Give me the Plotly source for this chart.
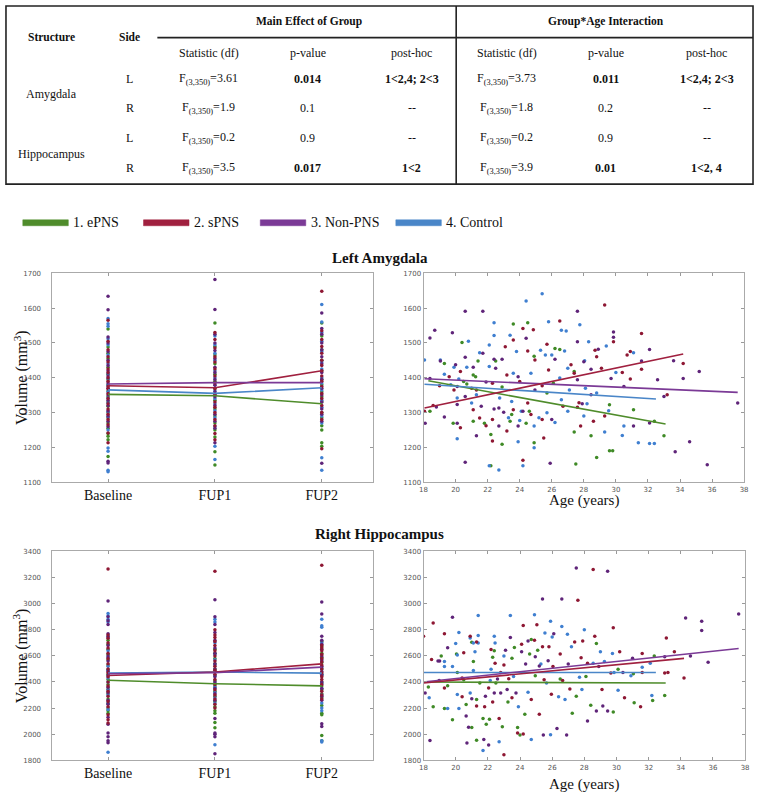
import plotly.graph_objects as go

W, H = 759, 796
def px(x): return x / W
def py(y): return 1 - y / H

# ---------------- Table data ----------------
structures = ["Amygdala", "Hippocampus"]
sides = ["L", "R", "L", "R"]
main_stat = ["3.61", "1.9", "0.2", "3.5"]
main_p = ["0.014", "0.1", "0.9", "0.017"]
main_post = ["1&lt;2,4; 2&lt;3", "--", "--", "1&lt;2"]
inter_stat = ["3.73", "1.8", "0.2", "3.9"]
inter_p = ["0.011", "0.2", "0.9", "0.01"]
inter_post = ["1&lt;2,4; 2&lt;3", "--", "--", "1&lt;2, 4"]
significant = [True, False, False, True]

groups = ["1. ePNS", "2. sPNS", "3. Non-PNS", "4. Control"]
line_colors = ["#4f8c2b", "#a0203f", "#7b3a96", "#4a86c8"]
dot_colors = ["#3f8a26", "#8e1733", "#5f2479", "#3f7fd0"]
timepoints = ["Baseline", "FUP1", "FUP2"]

# ---------------- Left Amygdala: volume by timepoint ----------------
LA_tp = {
    "1. ePNS": [
        [1540, 1488, 1470, 1455, 1430, 1410, 1395, 1380, 1362, 1345, 1330, 1318, 1300, 1285, 1270, 1255, 1240, 1232, 1222, 1174],
        [1557, 1490, 1465, 1440, 1410, 1390, 1370, 1350, 1335, 1310, 1290, 1270, 1250, 1230, 1187, 1149],
        [1557, 1520, 1480, 1450, 1420, 1395, 1380, 1360, 1345, 1330, 1300, 1285, 1262, 1250, 1213, 1203],
    ],
    "2. sPNS": [
        [1565, 1505, 1480, 1460, 1445, 1425, 1415, 1400, 1390, 1375, 1368, 1355, 1340, 1325, 1310, 1295, 1280, 1265, 1241, 1213],
        [1530, 1510, 1485, 1460, 1445, 1425, 1405, 1385, 1368, 1352, 1330, 1315, 1300, 1280, 1262, 1240, 1222],
        [1648, 1535, 1510, 1490, 1470, 1450, 1435, 1420, 1405, 1390, 1375, 1355, 1340, 1320, 1300, 1280, 1196],
    ],
    "3. Non-PNS": [
        [1634, 1595, 1517, 1500, 1475, 1450, 1435, 1420, 1405, 1385, 1370, 1350, 1335, 1320, 1305, 1290, 1275, 1260, 1160, 1155],
        [1682, 1596, 1525, 1500, 1478, 1455, 1430, 1415, 1395, 1378, 1360, 1345, 1320, 1295, 1275, 1255, 1213],
        [1586, 1541, 1525, 1500, 1480, 1460, 1440, 1415, 1395, 1370, 1350, 1330, 1310, 1295, 1275, 1154],
    ],
    "4. Control": [
        [1570, 1555, 1548, 1512, 1495, 1465, 1440, 1412, 1398, 1378, 1360, 1342, 1328, 1302, 1288, 1250, 1198, 1189, 1134, 1130],
        [1520, 1495, 1470, 1450, 1420, 1400, 1380, 1362, 1340, 1325, 1305, 1285, 1260, 1203, 1165],
        [1610, 1560, 1530, 1505, 1475, 1445, 1425, 1400, 1385, 1365, 1335, 1315, 1290, 1270, 1170, 1134],
    ],
}
LA_means = {
    "1. ePNS": [1352, 1348, 1325],
    "2. sPNS": [1377, 1371, 1420],
    "3. Non-PNS": [1382, 1386, 1386],
    "4. Control": [1365, 1355, 1371],
}

# ---------------- Left Amygdala: volume vs age ----------------
LA_age = {
    "1. ePNS": [20.4, 24.5, 23.6, 26.2, 26.5, 24.9, 21.4, 22.5, 19.3, 21.1, 21.25, 20.5, 20.7, 18.4, 19.85, 21.1, 21.8, 22.2, 22.9, 23.5, 23.4, 24.4, 24.6, 24.9, 27.4, 28.45, 28.8, 29.6, 29.8, 29.6, 31.1, 32.4, 33.0, 27.4, 22.9, 25.7, 26.1, 22.2, 27.5],
    "2. sPNS": [24.85, 24.2, 26.5, 29.3, 29.85, 31.6, 28.7, 30.9, 30.7, 25.7, 24.5, 23.6, 23.1, 20.3, 19.6, 19.0, 19.9, 21.0, 21.3, 18.6, 18.06, 20.3, 21.1, 21.5, 21.9, 22.3, 22.3, 23.2, 23.6, 24.7, 25.4, 25.5, 26.7, 27.8, 27.6, 28.6, 29.3, 33.2, 34.2, 31.6, 30.4, 30.9, 28.8, 29.1, 27.4, 27.2, 25.8, 24.95, 24.5, 24.0, 23.2, 22.3, 25.4, 27.7, 24.2],
    "3. Non-PNS": [18.7, 18.4, 19.8, 20.6, 21.7, 27.6, 29.85, 29.85, 27.6, 28.9, 32.1, 24.4, 20.6, 22.4, 22.9, 21.7, 19.05, 20.0, 21.1, 18.4, 20.1, 20.1, 20.6, 21.6, 18.8, 18.1, 19.3, 20.1, 21.3, 22.7, 23.9, 26.0, 27.9, 31.1, 32.1, 33.7, 33.0, 32.6, 33.6, 34.2, 35.2, 34.6, 35.7, 37.6, 31.6, 30.5, 28.0, 28.45, 27.6, 29.7, 26.2, 24.95, 24.2, 23.0, 22.7, 22.5, 21.9, 22.4, 23.9, 28.45, 20.6, 25.9],
    "4. Control": [18.06, 20.8, 22.4, 22.4, 22.1, 24.4, 25.4, 25.8, 26.6, 26.9, 27.75, 28.3, 29.4, 31.1, 26.8, 26.0, 25.3, 21.5, 23.4, 23.8, 19.05, 19.9, 20.7, 19.3, 20.2, 19.7, 20.1, 21.0, 21.3, 20.1, 23.3, 24.0, 23.9, 24.1, 24.9, 24.9, 25.2, 25.7, 26.2, 27.0, 28.0, 28.2, 29.3, 29.55, 30.5, 30.4, 31.4, 32.1, 32.4, 30.0, 28.05, 27.0, 27.1, 28.1, 28.8, 26.5, 25.6, 24.7, 23.5, 22.75, 22.1, 23.6, 26.6, 22.1, 22.7, 24.2],
}
LA_vol = {
    "1. ePNS": [1501, 1558, 1554, 1484, 1481, 1462, 1448, 1448, 1441, 1408, 1403, 1389, 1382, 1304, 1269, 1275, 1269, 1237, 1209, 1294, 1275, 1269, 1304, 1213, 1244, 1233, 1171, 1190, 1190, 1322, 1308, 1275, 1233, 1418, 1373, 1356, 1384, 1147, 1152],
    "2. sPNS": [1538, 1541, 1563, 1609, 1503, 1527, 1479, 1475, 1465, 1496, 1477, 1508, 1489, 1418, 1403, 1377, 1365, 1370, 1365, 1320, 1304, 1256, 1308, 1284, 1262, 1280, 1218, 1247, 1308, 1294, 1280, 1227, 1318, 1261, 1315, 1275, 1290, 1351, 1441, 1424, 1415, 1396, 1460, 1427, 1413, 1437, 1422, 1451, 1327, 1389, 1408, 1384, 1377, 1328, 1163],
    "3. Non-PNS": [1536, 1514, 1529, 1591, 1591, 1591, 1531, 1516, 1503, 1482, 1481, 1513, 1459, 1453, 1453, 1470, 1448, 1437, 1430, 1398, 1375, 1323, 1346, 1318, 1316, 1269, 1287, 1269, 1233, 1261, 1261, 1280, 1325, 1261, 1270, 1187, 1346, 1394, 1449, 1398, 1418, 1216, 1150, 1327, 1448, 1375, 1446, 1424, 1394, 1398, 1453, 1365, 1304, 1301, 1313, 1427, 1388, 1310, 1403, 1351, 1157, 1154],
    "4. Control": [1451, 1505, 1558, 1521, 1494, 1620, 1641, 1561, 1536, 1534, 1552, 1503, 1491, 1472, 1477, 1465, 1479, 1472, 1522, 1475, 1451, 1430, 1430, 1410, 1396, 1380, 1342, 1327, 1351, 1225, 1285, 1277, 1216, 1304, 1261, 1199, 1285, 1299, 1271, 1304, 1290, 1325, 1244, 1305, 1261, 1234, 1213, 1211, 1211, 1415, 1449, 1427, 1365, 1370, 1356, 1399, 1465, 1413, 1332, 1342, 1432, 1413, 1337, 1147, 1135, 1147],
}
LA_fit_age = {"1. ePNS": [18.3, 33.1], "2. sPNS": [18.06, 34.2], "3. Non-PNS": [18.06, 37.6], "4. Control": [18.06, 32.5]}
LA_fit_vol = {"1. ePNS": [1391, 1267], "2. sPNS": [1313, 1468], "3. Non-PNS": [1397, 1358], "4. Control": [1381, 1339]}

# ---------------- Right Hippocampus: volume by timepoint ----------------
RH_tp = {
    "1. ePNS": [
        [2720, 2690, 2650, 2610, 2570, 2530, 2495, 2460, 2420, 2380, 2345, 2310, 2270, 2235, 2200, 2180, 2160],
        [2650, 2620, 2580, 2540, 2500, 2450, 2410, 2370, 2330, 2290, 2250, 2210, 2180, 2160, 2090, 2050],
        [2710, 2670, 2620, 2590, 2550, 2500, 2460, 2400, 2370, 2340, 2310, 2280, 2220, 2160, 2150, 1990, 1950],
    ],
    "2. sPNS": [
        [3266, 2760, 2735, 2700, 2660, 2620, 2580, 2540, 2500, 2470, 2440, 2400, 2370, 2330, 2290, 2250, 2210, 2150, 2110, 2085],
        [3248, 2800, 2760, 2740, 2710, 2680, 2640, 2600, 2560, 2520, 2490, 2460, 2420, 2380, 2340, 2300, 2270, 2230, 2200],
        [3294, 2680, 2660, 2640, 2610, 2580, 2555, 2530, 2500, 2470, 2440, 2420, 2380, 2330, 2300, 2270],
    ],
    "3. Non-PNS": [
        [3020, 2900, 2870, 2840, 2770, 2745, 2680, 2600, 2560, 2480, 2450, 2360, 2320, 2260, 2230, 2130, 2076, 2010, 1980, 1950, 1935],
        [3030, 2900, 2840, 2780, 2720, 2660, 2620, 2540, 2500, 2440, 2400, 2350, 2310, 2260, 2120, 2010, 2000, 1980, 1850],
        [3013, 2920, 2750, 2720, 2690, 2650, 2600, 2570, 2520, 2480, 2450, 2400, 2350, 2290, 2260, 2080, 2060],
    ],
    "4. Control": [
        [2924, 2905, 2880, 2860, 2750, 2640, 2590, 2520, 2490, 2430, 2400, 2340, 2300, 2240, 2190, 1861],
        [2880, 2860, 2700, 2610, 2570, 2530, 2480, 2450, 2390, 2360, 2320, 2280, 2240, 1920],
        [2880, 2830, 2820, 2700, 2560, 2510, 2460, 2390, 2350, 2300, 2240, 2200, 2180, 1950, 1940],
    ],
}
RH_means = {
    "1. ePNS": [2413, 2387, 2370],
    "2. sPNS": [2450, 2476, 2539],
    "3. Non-PNS": [2463, 2471, 2514],
    "4. Control": [2468, 2476, 2468],
}

# ---------------- Right Hippocampus: volume vs age ----------------
RH_age = {
    "1. ePNS": [18.3, 18.6, 19.1, 19.3, 19.5, 19.8, 20.05, 20.1, 20.5, 20.65, 21.0, 21.0, 21.1, 21.3, 21.3, 21.5, 21.7, 21.9, 22.1, 22.3, 22.4, 22.5, 22.9, 23.25, 23.5, 23.65, 23.85, 24.0, 24.3, 24.7, 24.6, 24.95, 25.1, 26.5, 27.25, 27.5, 28.1, 28.4, 28.75, 29.8, 30.1, 31.05, 31.1, 32.25, 32.35, 33.0],
    "2. sPNS": [18.0, 18.5, 18.6, 19.3, 19.3, 20.4, 20.4, 20.5, 20.9, 21.3, 21.3, 21.8, 22.05, 22.2, 22.3, 22.45, 22.7, 22.8, 23.0, 23.0, 23.3, 23.5, 23.85, 24.1, 24.2, 24.2, 24.7, 24.9, 25.05, 25.2, 25.4, 25.5, 25.8, 25.95, 26.05, 26.5, 26.65, 27.1, 27.4, 27.6, 27.8, 27.9, 28.2, 28.55, 28.65, 29.1, 29.65, 29.8, 30.5, 30.2, 31.5, 31.6, 31.6, 33.0, 33.2, 33.6, 34.2, 33.1],
    "3. Non-PNS": [18.1, 18.4, 18.9, 19.0, 18.97, 19.5, 19.8, 20.65, 20.7, 20.8, 21.0, 21.75, 21.85, 22.05, 22.4, 22.6, 22.8, 23.1, 23.2, 23.4, 23.75, 24.1, 24.35, 24.5, 24.95, 25.2, 25.4, 25.45, 25.75, 26.1, 26.3, 26.6, 26.9, 27.0, 27.5, 28.2, 28.75, 28.9, 29.15, 29.45, 29.45, 30.4, 31.0, 33.0, 34.3, 34.6, 35.3, 35.3, 35.7, 37.6],
    "4. Control": [18.35, 19.3, 19.3, 19.5, 19.8, 20.0, 20.1, 20.1, 20.2, 20.2, 20.9, 20.9, 21.1, 21.1, 21.2, 21.4, 21.4, 21.4, 21.7, 22.15, 22.2, 22.4, 22.45, 22.7, 23.0, 23.4, 23.6, 23.9, 24.5, 24.7, 24.9, 25.3, 25.55, 25.65, 25.9, 25.9, 26.0, 26.4, 26.6, 26.8, 26.95, 27.2, 27.7, 27.85, 28.0, 28.55, 29.0, 29.25, 29.75, 29.85, 30.1, 30.9, 31.6, 32.1, 32.2],
}
RH_vol = {
    "1. ePNS": [2362, 2211, 2599, 2196, 2372, 2110, 2614, 2473, 2417, 2228, 2052, 2705, 2556, 1954, 2266, 2392, 2120, 2077, 2115, 2589, 2639, 2392, 2057, 2246, 2581, 2664, 2052, 1994, 2153, 2725, 2614, 2448, 2644, 2422, 2160, 2291, 2442, 2221, 2694, 2170, 2498, 2463, 2241, 2258, 2599, 2296],
    "2. sPNS": [2750, 2573, 2851, 2770, 2354, 2286, 2430, 2624, 2750, 2707, 2216, 2211, 2354, 2649, 2246, 2543, 2120, 2473, 1843, 2531, 2425, 2279, 2009, 2689, 2833, 2001, 2266, 2719, 2838, 2153, 2669, 2417, 2669, 2306, 2518, 2614, 2412, 2347, 2707, 3027, 2586, 2714, 2543, 3261, 2750, 2342, 2468, 2815, 2279, 2631, 2211, 2473, 2619, 2468, 2473, 2631, 2430, 2737],
    "3. Non-PNS": [2316, 1951, 2561, 2561, 2412, 2662, 2896, 2140, 1933, 2054, 2271, 1959, 2291, 1918, 2316, 2422, 2316, 2644, 2342, 2740, 2316, 2631, 2538, 2714, 2594, 2523, 3035, 1994, 2563, 2770, 2044, 3035, 1994, 2538, 3274, 2102, 2178, 2518, 2216, 3249, 2178, 2473, 2581, 2594, 2891, 2599, 2866, 2795, 2551, 2921],
    "4. Control": [2279, 2518, 2556, 2196, 2518, 2694, 2606, 2304, 2196, 2780, 2316, 2737, 2488, 2699, 2631, 2909, 2699, 2757, 1875, 2412, 2498, 2750, 2699, 1943, 2599, 2909, 2442, 2211, 2321, 1959, 2916, 2538, 2775, 2392, 2866, 1996, 2745, 2286, 2825, 2266, 2765, 2669, 2437, 2342, 2800, 2543, 2631, 2556, 2619, 2473, 2337, 2447, 2513, 2543, 2296],
}
RH_fit_age = {"1. ePNS": [18.0, 33.06], "2. sPNS": [18.0, 34.2], "3. Non-PNS": [18.0, 37.6], "4. Control": [18.0, 32.45]}
RH_fit_vol = {"1. ePNS": [2400, 2392], "2. sPNS": [2392, 2581], "3. Non-PNS": [2400, 2657], "4. Control": [2473, 2473]}

fig = go.Figure()

draw_order = [0, 3, 2, 1]  # green, blue, purple, red on top

def add_tp(tpdata, means, xa, ya):
    for gi in draw_order:
        g = groups[gi]
        xs, ys = [], []
        for ti, t in enumerate(timepoints):
            xs += [t] * len(tpdata[g][ti])
            ys += tpdata[g][ti]
        fig.add_trace(go.Scatter(x=xs, y=ys, mode="markers", xaxis=xa, yaxis=ya,
                                 marker=dict(size=3.5, color=dot_colors[gi]), showlegend=False, hoverinfo="skip"))
    for gi in [0, 3, 1, 2]:
        g = groups[gi]
        fig.add_trace(go.Scatter(x=timepoints, y=means[g], mode="lines", xaxis=xa, yaxis=ya,
                                 line=dict(color=line_colors[gi], width=1.6), showlegend=False))

def add_age(ages, vols, fa, fv, xa, ya):
    for gi in draw_order:
        g = groups[gi]
        fig.add_trace(go.Scatter(x=ages[g], y=vols[g], mode="markers", xaxis=xa, yaxis=ya,
                                 marker=dict(size=3.5, color=dot_colors[gi]), showlegend=False, hoverinfo="skip"))
    for gi in [0, 3, 2, 1]:
        g = groups[gi]
        fig.add_trace(go.Scatter(x=fa[g], y=fv[g], mode="lines", xaxis=xa, yaxis=ya,
                                 line=dict(color=line_colors[gi], width=1.6), showlegend=False))

add_tp(LA_tp, LA_means, "x", "y")
add_age(LA_age, LA_vol, LA_fit_age, LA_fit_vol, "x2", "y2")
add_tp(RH_tp, RH_means, "x3", "y3")
add_age(RH_age, RH_vol, RH_fit_age, RH_fit_vol, "x4", "y4")

serif = "Liberation Serif, Times New Roman, serif"
small = dict(family="DejaVu Sans, sans-serif", size=7, color="#555555")

axis_common = dict(showline=True, linecolor="#aaaaaa", linewidth=1, mirror="ticks",
                   ticks="inside", ticklen=3, tickcolor="#999999", showgrid=False, zeroline=False,
                   fixedrange=True)

top_y = (py(483), py(272))
bot_y = (py(764), py(553))
left_x = (px(49), px(373))
right_x = (px(424), px(748))

fig.update_layout(
    width=W, height=H, margin=dict(l=0, r=0, t=0, b=0),
    paper_bgcolor="white", plot_bgcolor="white", showlegend=False,
    xaxis=dict(domain=left_x, anchor="y", type="category", categoryorder="array", categoryarray=timepoints,
               range=[-0.52, 2.48], tickfont=dict(family=serif, size=14, color="#111"), **axis_common),
    yaxis=dict(domain=top_y, anchor="x", range=[1100, 1700], dtick=100, tickfont=small,
               ticklabelstandoff=9, **axis_common),
    xaxis2=dict(domain=right_x, anchor="y2", range=[18, 38], dtick=2, tickfont=small, **axis_common),
    yaxis2=dict(domain=top_y, anchor="x2", range=[1100, 1700], dtick=100, tickfont=small, **axis_common),
    xaxis3=dict(domain=left_x, anchor="y3", type="category", categoryorder="array", categoryarray=timepoints,
                range=[-0.52, 2.48], tickfont=dict(family=serif, size=14, color="#111"), **axis_common),
    yaxis3=dict(domain=bot_y, anchor="x3", range=[1800, 3400], dtick=200, tickfont=small,
                ticklabelstandoff=9, **axis_common),
    xaxis4=dict(domain=(px(424), px(749)), anchor="y4", range=[18, 38], dtick=2, tickfont=small, **axis_common),
    yaxis4=dict(domain=bot_y, anchor="x4", range=[1800, 3400], dtick=200, tickfont=small, **axis_common),
)

shapes = []
ann = []

def text(x, y, s, size=11, bold=False, xanchor="center", color="#111", angle=0):
    ann.append(dict(x=px(x), y=py(y), xref="paper", yref="paper", text=("<b>%s</b>" % s) if bold else s,
                    showarrow=False, xanchor=xanchor, yanchor="middle", textangle=angle,
                    font=dict(family=serif, size=size, color=color)))

# Table frame
shapes.append(dict(type="rect", xref="paper", yref="paper", x0=px(2), x1=px(757), y0=py(182), y1=py(2),
                   line=dict(color="#222", width=1.6)))
shapes.append(dict(type="line", xref="paper", yref="paper", x0=px(457), x1=px(457), y0=py(182), y1=py(2),
                   line=dict(color="#222", width=1.6)))
shapes.append(dict(type="line", xref="paper", yref="paper", x0=px(155), x1=px(757), y0=py(34), y1=py(34),
                   line=dict(color="#222", width=1.6)))

text(48, 33, "Structure", size=11.5, bold=True)
text(127, 33, "Side", size=11.5, bold=True)
text(308, 18, "Main Effect of Group", size=11.5, bold=True)
text(608, 18, "Group*Age Interaction", size=11.5, bold=True)
col_x = [207, 307, 412, 508, 608, 710]
for cx, lab in zip(col_x, ["Statistic (df)", "p-value", "post-hoc"] * 2):
    text(cx, 49, lab, size=12)
row_y = [76, 105, 135, 166]
text(48, 91, structures[0], size=12)
text(48, 152, structures[1], size=12)
for i, ry in enumerate(row_y):
    text(127, ry, sides[i], size=12)
    text(col_x[0], ry, "F<sub>(3,350)</sub>=" + main_stat[i], size=12)
    text(col_x[1], ry, main_p[i], bold=significant[i], size=12)
    text(col_x[2], ry, main_post[i], bold=significant[i], size=12)
    text(col_x[3], ry, "F<sub>(3,350)</sub>=" + inter_stat[i], size=12)
    text(col_x[4], ry, inter_p[i], bold=significant[i], size=12)
    text(col_x[5], ry, inter_post[i], bold=significant[i], size=12)

# Legend
leg_x = [19, 141, 259, 396]
for gi, g in enumerate(groups):
    shapes.append(dict(type="rect", xref="paper", yref="paper", x0=px(leg_x[gi]), x1=px(leg_x[gi] + 46),
                       y0=py(224), y1=py(218), fillcolor=line_colors[gi], line=dict(color=line_colors[gi], width=0.5)))
    text(leg_x[gi] + 49, 221, g, size=14, xanchor="left")

# Titles
text(380, 257, "Left Amygdala", size=15, bold=True)
text(380, 535, "Right Hippocampus", size=15, bold=True)
text(17, 377, "Volume (mm<sup>3</sup>)", size=16, angle=-90)
text(17, 658, "Volume (mm<sup>3</sup>)", size=16, angle=-90)
text(586, 502, "Age (years)", size=15)
text(586, 788, "Age (years)", size=15)

fig.update_layout(shapes=shapes, annotations=ann)
fig.write_html("out.html", config={"displayModeBar": False},
               post_script="document.body.style.margin='0';document.body.style.padding='0';")
